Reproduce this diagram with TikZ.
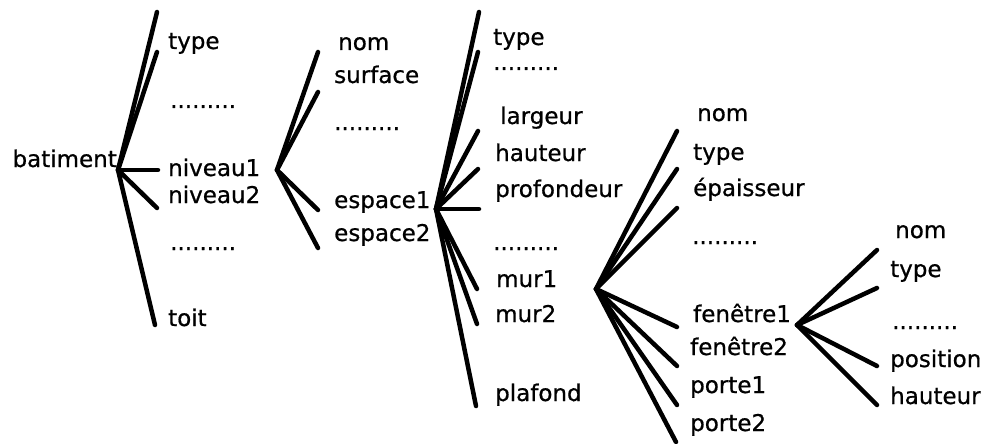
\documentclass[tikz,border=0pt]{standalone}
\usepackage{fontspec}
\setmainfont{DejaVu Sans}
\newfontfamily\geneva{DejaVu Sans}[FakeBold=0.7]
\usepackage{tikz}

\tikzset{
  branche/.style={line width=4.5pt, line cap=round},
  etiq/.style={anchor=base west, inner sep=0pt, font=\geneva\fontsize{23}{25}\selectfont},
}

\begin{document}
\begin{tikzpicture}[x=1pt,y=-1pt]
        \useasboundingbox (0,0) rectangle (989,444);
        % batiment
        \node[etiq, anchor=base east] (batiment) at (117,167) {batiment};
        \coordinate (r1) at (118,170);
        \foreach \x/\y [count=\i] in {157/12,157/52,158/170,157/208,155/325}
            \draw[branche] (r1) -- (\x,\y) coordinate (b1-\i);
        \foreach \x/\y/\t [count=\i] in {168/49/type,170/108/{.........},168/176/niveau1,
                168/203/niveau2,170/250/{.........},168/326/toit}
            \node[etiq] (l1-\i) at (\x,\y) {\t};

        % niveau
        \coordinate (r2) at (277,170);
        \foreach \x/\y [count=\i] in {318/52,318/92,318/210,318/248}
            \draw[branche] (r2) -- (\x,\y) coordinate (b2-\i);
        \foreach \x/\y/\t [count=\i] in {338/50/nom,334/83/surface,334/130/{.........},
                334/208/espace1,334/241/espace2}
            \node[etiq] (l2-\i) at (\x,\y) {\t};

        % espace
        \coordinate (r3) at (436,209);
        \foreach \x/\y [count=\i] in {479/12,478/52,478/131,478/169,479/209,477/289,477/324,476/406}
            \draw[branche] (r3) -- (\x,\y) coordinate (b3-\i);
        \foreach \x/\y/\t [count=\i] in {493/45/type,493/70/{.........},500/124/largeur,
                495/161/hauteur,495/197/profondeur,493/250/{.........},496/287/mur1,
                495/322/mur2,495/401/plafond}
            \node[etiq] (l3-\i) at (\x,\y) {\t};

        % mur
        \coordinate (r4) at (596,289);
        \foreach \x/\y [count=\i] in {677/131,677/169,677/208,677/327,677/366,677/405,676/442}
            \draw[branche] (r4) -- (\x,\y) coordinate (b4-\i);
        \foreach \x/\y/\t [count=\i] in {697/121/nom,693/160/type,693/196/épaisseur,
                692/244/{.........},693/322/fenêtre1,690/355/fenêtre2,690/393/porte1,
                690/431/porte2}
            \node[etiq] (l4-\i) at (\x,\y) {\t};

        % fenetre
        \coordinate (r5) at (797,325);
        \foreach \x/\y [count=\i] in {877/250,877/288,877/366,877/405}
            \draw[branche] (r5) -- (\x,\y) coordinate (b5-\i);
        \foreach \x/\y/\t [count=\i] in {895/238/nom,890/277/type,892/329/{.........},
                890/367/position,890/404/hauteur}
            \node[etiq] (l5-\i) at (\x,\y) {\t};
\end{tikzpicture}
\end{document}
